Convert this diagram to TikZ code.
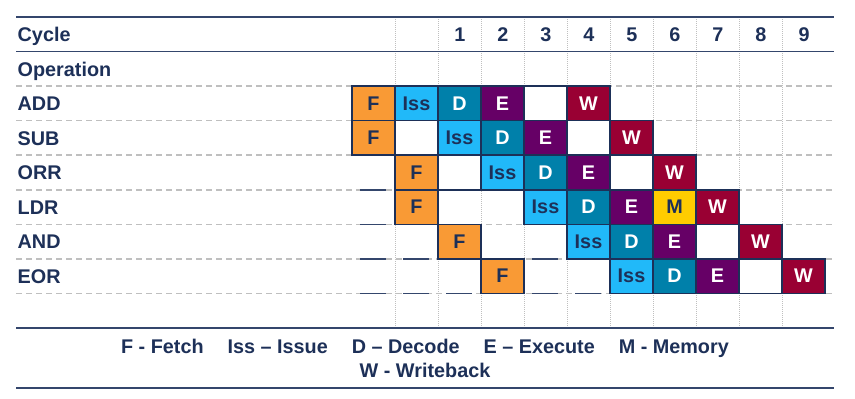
\documentclass[tikz,border=0pt]{standalone}
\usepackage{fontspec}
\setmainfont{Liberation Sans}
\usepackage{tikz}
\usetikzlibrary{calc}

\definecolor{navy}{HTML}{1D3058}
\definecolor{rulenavy}{HTML}{34466C}
\definecolor{gridgray}{HTML}{BFBFBF}
\definecolor{fetchorange}{HTML}{F99A35}
\definecolor{issueblue}{HTML}{21B9F9}
\definecolor{decodeteal}{HTML}{0080AA}
\definecolor{executepurple}{HTML}{660066}
\definecolor{memoryyellow}{HTML}{FFCC00}
\definecolor{writered}{HTML}{990033}

\newcommand{\tablefont}{\fontsize{19.8}{24}\selectfont\bfseries}

\tikzset{
    hrule/.style={rulenavy, line width=1.6pt},
    rowline/.style={gridgray, line width=1.5pt, dash pattern=on 6pt off 4pt},
    colline/.style={gridgray, line width=1pt, dash pattern=on 1pt off 1pt},
    waitline/.style={rulenavy, line width=1.5pt},
    rowlabel/.style={anchor=base west, inner sep=0pt, text=navy, font=\tablefont},
    numlabel/.style={anchor=base, inner sep=0pt, text=navy, font=\tablefont},
    stage/.style={rectangle, draw=navy, line width=1.5pt, minimum width=43pt, minimum height=34.55pt, inner sep=0pt, font=\tablefont},
    fetch/.style={stage, fill=fetchorange, text=navy},
    issue/.style={stage, fill=issueblue, text=navy},
    decode/.style={stage, fill=decodeteal, text=white},
    execute/.style={stage, fill=executepurple, text=white},
    memory/.style={stage, fill=memoryyellow, text=navy},
    writeback/.style={stage, fill=writered, text=white},
    idle/.style={stage, fill=white}
}

\begin{document}
\begin{tikzpicture}[x=1pt, y=-1pt]
    \useasboundingbox (0,0) rectangle (855,399);

    % grid
    \foreach \k in {1,...,10}
        \draw[colline] ({352+43*\k},17) -- ({352+43*\k},327.95);
    \foreach \r in {2,...,8}
        \draw[rowline] (16,{17+34.55*\r}) -- (834,{17+34.55*\r});
    \draw[hrule] (16,17) -- (834,17);
    \draw[hrule] (16,51.55) -- (834,51.55);
    \draw[hrule] (16,327.95) -- (834,327.95);
    \draw[hrule] (16,388) -- (834,388);

    % labels
    \foreach \r/\op in {0/Cycle, 1/Operation, 2/ADD, 3/SUB, 4/ORR, 5/LDR, 6/AND, 7/EOR}
        \node (\op) [rowlabel] at (17.5,{41.5+34.55*\r}) {\op};
    \foreach \n in {1,...,9}
        \node (cyc\n) [numlabel] at ({374+43*(\n+1)},41.5) {\n};

    % pipeline stages
    \foreach \k/\s/\t in {0/fetch/F, 1/issue/Iss, 2/decode/D, 3/execute/E, 4/idle/{}, 5/writeback/W}
        \node (ADD-\k) [\s] at ({373.5+43*\k},{34.275+34.55*2}) {\t};
    \foreach \k/\s/\t in {0/fetch/F, 1/idle/{}, 2/issue/Iss, 3/decode/D, 4/execute/E, 5/idle/{}, 6/writeback/W}
        \node (SUB-\k) [\s] at ({373.5+43*\k},{34.275+34.55*3}) {\t};
    \foreach \k/\s/\t in {1/fetch/F, 2/idle/{}, 3/issue/Iss, 4/decode/D, 5/execute/E, 6/idle/{}, 7/writeback/W}
        \node (ORR-\k) [\s] at ({373.5+43*\k},{34.275+34.55*4}) {\t};
    \foreach \k/\s/\t in {1/fetch/F, 4/issue/Iss, 5/decode/D, 6/execute/E, 7/memory/M, 8/writeback/W}
        \node (LDR-\k) [\s] at ({373.5+43*\k},{34.275+34.55*5}) {\t};
    \foreach \k/\s/\t in {2/fetch/F, 5/issue/Iss, 6/decode/D, 7/execute/E, 8/idle/{}, 9/writeback/W}
        \node (AND-\k) [\s] at ({373.5+43*\k},{34.275+34.55*6}) {\t};
    \foreach \k/\s/\t in {3/fetch/F, 6/issue/Iss, 7/decode/D, 8/execute/E, 9/idle/{}, 10/writeback/W}
        \node (EOR-\k) [\s] at ({373.5+43*\k},{34.275+34.55*7}) {\t};

    % waiting slots
    \foreach \k/\r in {0/5, 0/6, 0/7, 1/7, 4/7, 0/8, 1/8, 2/8, 4/8, 5/8}
        \draw[waitline] ({360+43*\k},{17+34.55*\r}) -- ({386+43*\k},{17+34.55*\r});

    \node (legend) [inner sep=0pt, text=navy, font=\tablefont] at (425,360.5) {\begin{tabular}{c}
         F - Fetch\hspace{24pt}Iss -- Issue\hspace{24pt}D -- Decode\hspace{24pt}E -- Execute\hspace{24pt}M - Memory\\
         W - Writeback
    \end{tabular}};
\end{tikzpicture}
\end{document}
